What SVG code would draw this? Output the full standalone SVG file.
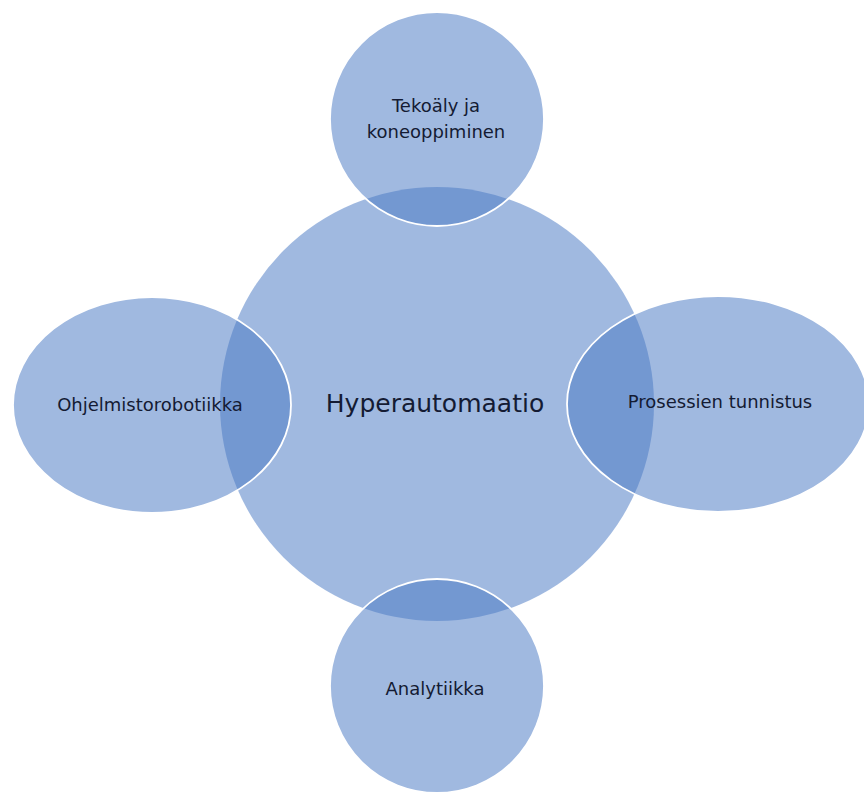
<svg xmlns="http://www.w3.org/2000/svg" width="864" height="794" viewBox="0 0 864 794">
<style>
.shape{fill:#4C7BC5;fill-opacity:0.53}
.sat{stroke:#ffffff;stroke-width:1.8}
.lbl{font-family:"DejaVu Sans","Liberation Sans",sans-serif;font-size:18px;fill:#141b33;text-anchor:middle}
.main{font-size:25px}
</style>
<rect x="0" y="0" width="864" height="794" fill="#ffffff"/>
<g id="node-hyperautomaatio">
<circle class="shape" cx="437" cy="404" r="217"/>
<text class="lbl main" x="435" y="412">Hyperautomaatio</text>
</g>
<g id="node-tekoaly">
<circle class="shape sat" cx="437" cy="119" r="107"/>
<text class="lbl" x="436" y="112">Tekoäly ja</text>
<text class="lbl" x="436" y="138">koneoppiminen</text>
</g>
<g id="node-prosessien">
<ellipse class="shape sat" cx="718" cy="404" rx="151" ry="108"/>
<text class="lbl" x="720" y="408">Prosessien tunnistus</text>
</g>
<g id="node-analytiikka">
<circle class="shape sat" cx="437" cy="686" r="107"/>
<text class="lbl" x="435" y="695">Analytiikka</text>
</g>
<g id="node-ohjelmistorobotiikka">
<ellipse class="shape sat" cx="152" cy="405" rx="139" ry="108"/>
<text class="lbl" x="150" y="411">Ohjelmistorobotiikka</text>
</g>
<g id="connectors"/>
</svg>
